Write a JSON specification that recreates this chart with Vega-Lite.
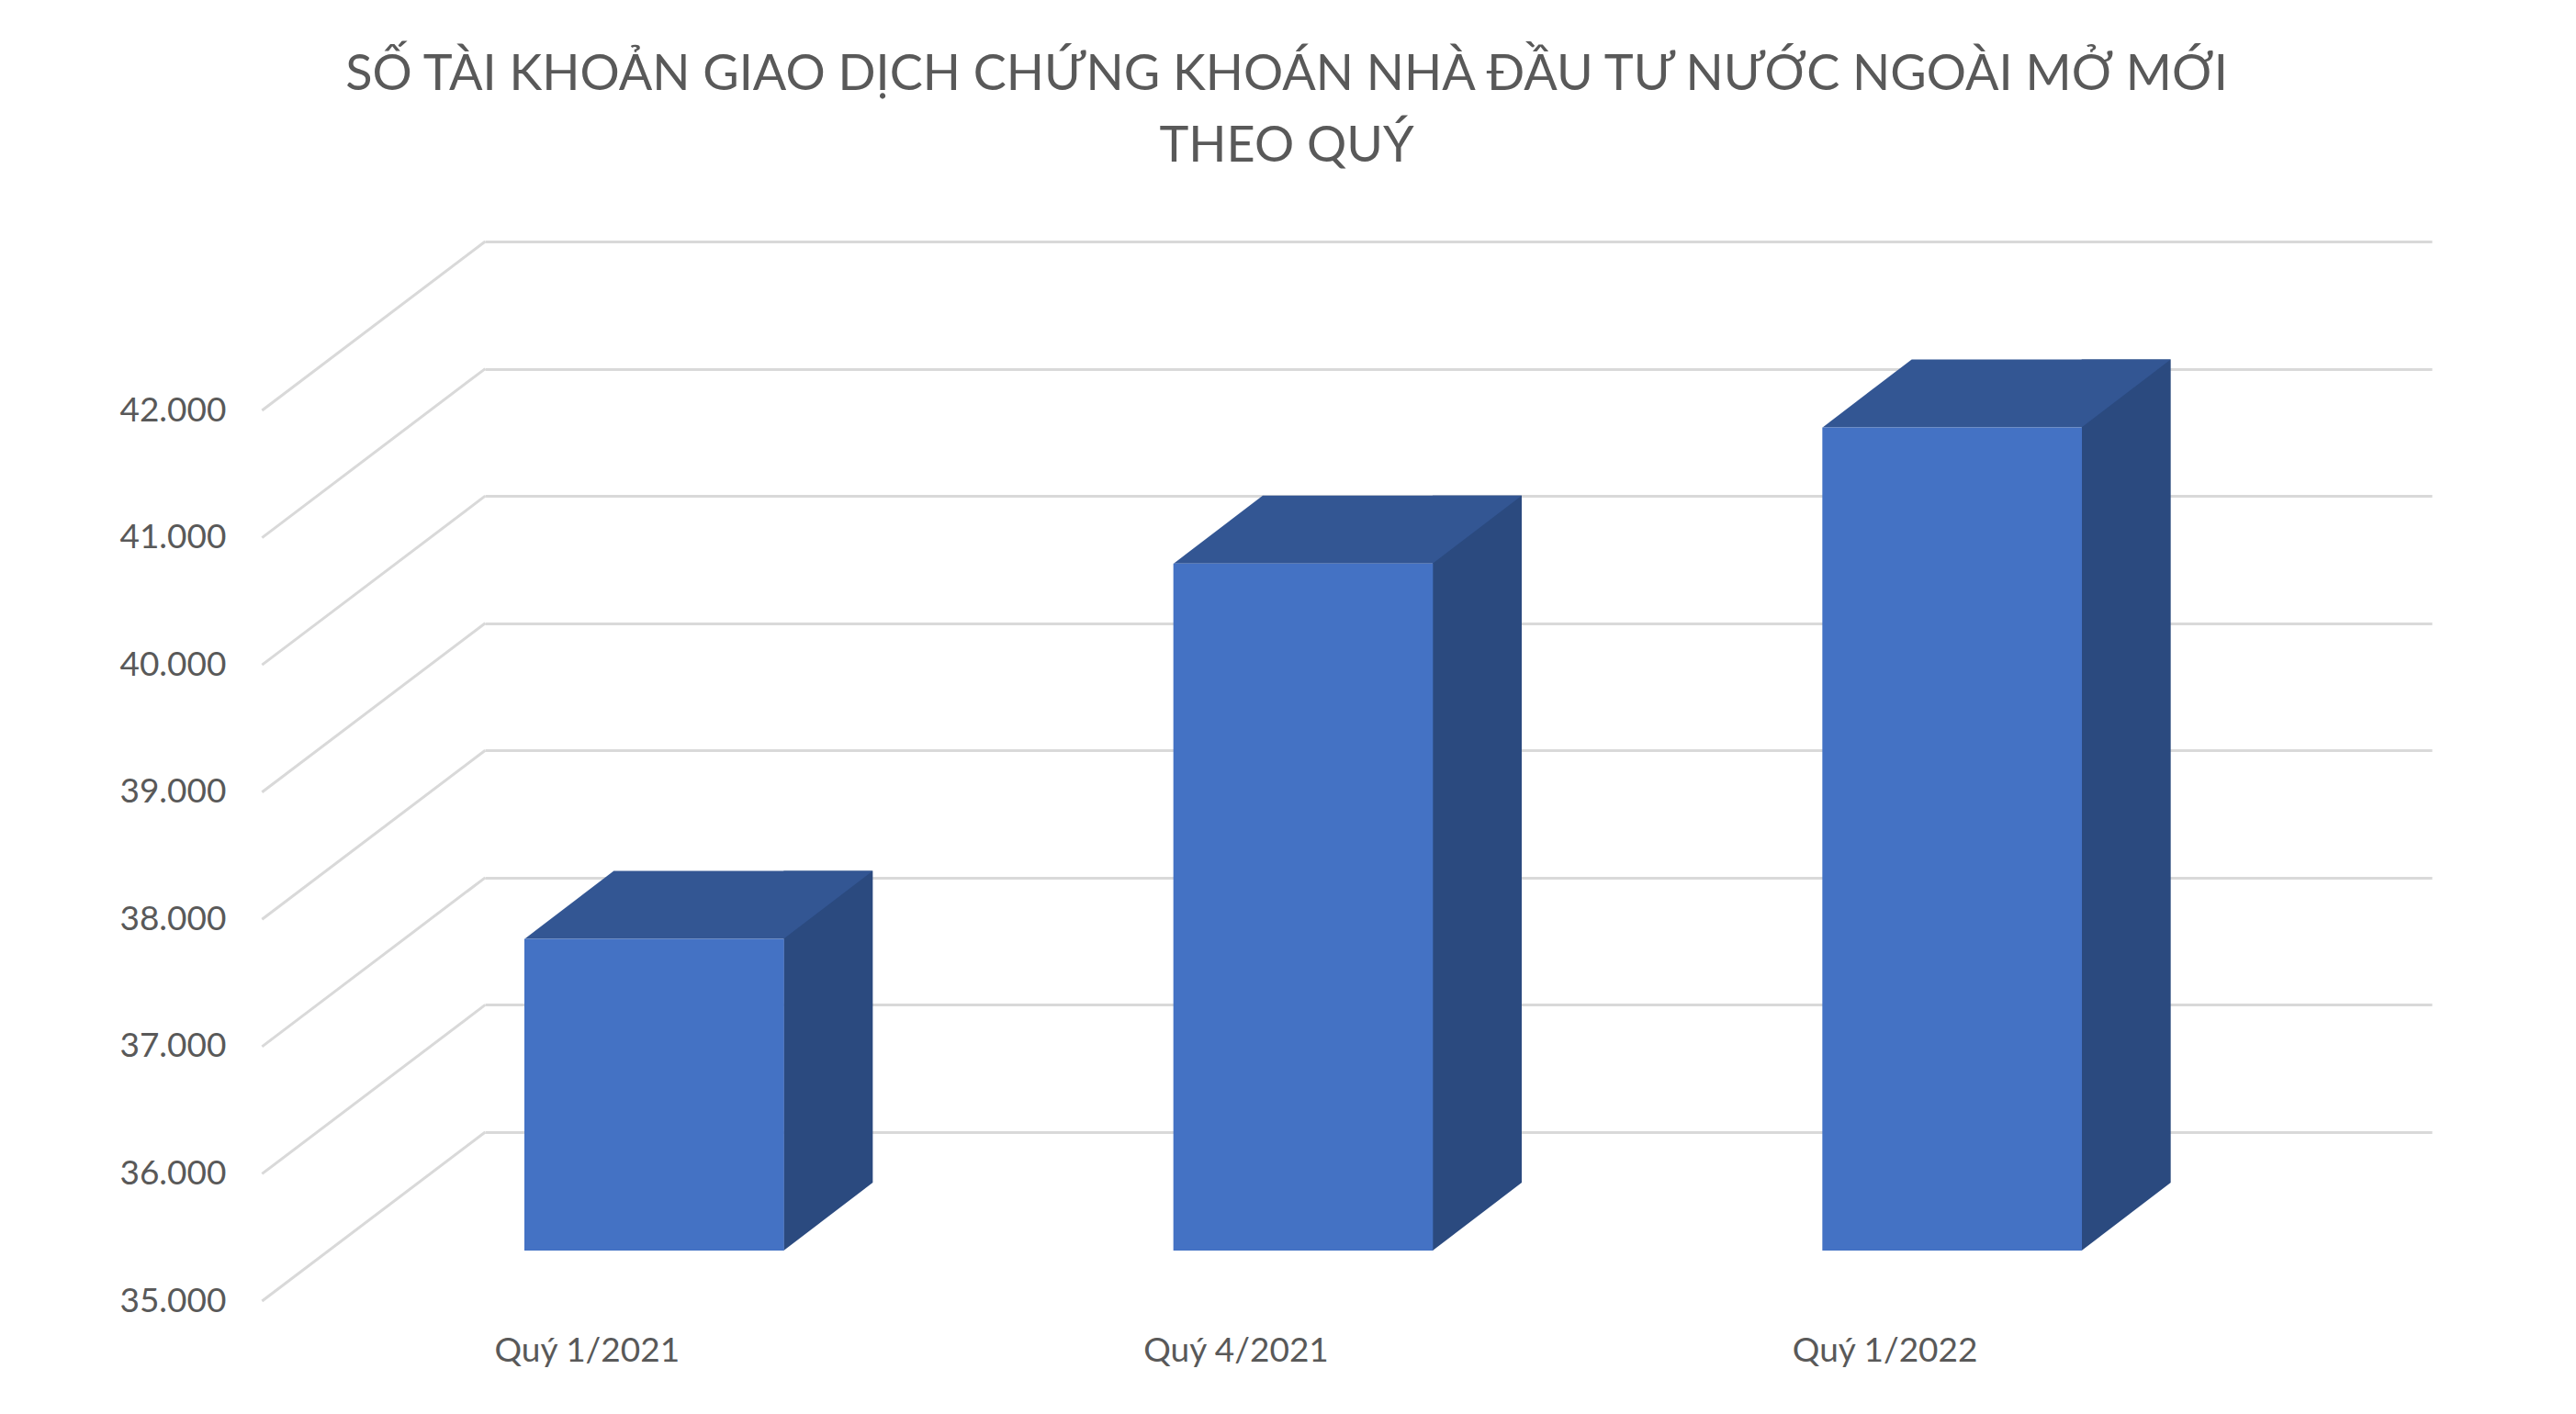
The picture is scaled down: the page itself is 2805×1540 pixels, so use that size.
{
  "$schema": "https://vega.github.io/schema/vega-lite/v6.json",
  "description": "So tai khoan giao dich chung khoan nha dau tu nuoc ngoai mo moi theo quy (3D column look).",
  "width": 2120,
  "height": 970,
  "autosize": "none",
  "padding": {"left": 528, "top": 263, "right": 157, "bottom": 307},
  "background": "white",
  "title": {
    "text": ["SỐ TÀI KHOẢN GIAO DỊCH CHỨNG KHOÁN NHÀ ĐẦU TƯ NƯỚC NGOÀI MỞ MỚI", "THEO QUÝ"],
    "anchor": "middle",
    "dx": -187,
    "font": "Lato",
    "fontSize": 54,
    "fontWeight": "normal",
    "color": "#595959",
    "lineHeight": 78,
    "offset": 70
  },
  "datasets": {
    "accounts": [
      {"quarter": "Quý 1/2021", "accounts": 37450},
      {"quarter": "Quý 4/2021", "accounts": 40400},
      {"quarter": "Quý 1/2022", "accounts": 41470}
    ],
    "levels": [
      {"level": 35000}, {"level": 36000}, {"level": 37000}, {"level": 38000},
      {"level": 39000}, {"level": 40000}, {"level": 41000}, {"level": 42000}
    ]
  },
  "config": {
    "view": {"stroke": null},
    "font": "Lato"
  },
  "layer": [
    {
      "data": {"name": "levels"},
      "mark": {
        "type": "point",
        "shape": "M-353,0L-596,184",
        "size": 4,
        "filled": false,
        "stroke": "#D9D9D9",
        "strokeWidth": 3,
        "opacity": 1
      },
      "encoding": {
        "x": {"datum": "Quý 1/2021", "type": "nominal"},
        "y": {"field": "level", "type": "quantitative"}
      }
    },
    {
      "data": {"name": "accounts"},
      "layer": [
        {
          "mark": {
            "type": "bar",
            "color": "#2B4A7F",
            "width": {"band": 0.1373},
            "xOffset": 20.5,
            "yOffset": 55,
            "y2Offset": 55
          },
          "encoding": {
            "y2": {"datum": 35000}
          }
        },
        {
          "mark": {
            "type": "point",
            "shape": "M-28,55L-28,129L69,55Z",
            "size": 4,
            "filled": true,
            "color": "#2B4A7F",
            "opacity": 1
          },
          "encoding": {
            "y": {"datum": 35000, "type": "quantitative"}
          }
        },
        {
          "mark": {
            "type": "point",
            "shape": "M-310,129L-28,129L69,55L-213,55Z",
            "size": 4,
            "filled": true,
            "color": "#335693",
            "opacity": 1
          }
        },
        {
          "mark": {
            "type": "bar",
            "color": "#4472C4",
            "width": {"band": 0.4},
            "xOffset": -169,
            "yOffset": 129,
            "y2Offset": 129
          },
          "encoding": {
            "y2": {"datum": 35000}
          }
        }
      ],
      "encoding": {
        "x": {"field": "quarter", "type": "nominal"},
        "y": {"field": "accounts", "type": "quantitative"}
      }
    }
  ],
  "resolve": {"scale": {"x": "shared", "y": "shared"}},
  "encoding": {
    "x": {
      "field": "quarter",
      "type": "nominal",
      "sort": null,
      "scale": {"paddingInner": 0, "paddingOuter": 0, "domain": ["Quý 1/2021", "Quý 4/2021", "Quý 1/2022"]},
      "axis": {
        "title": null,
        "domain": false,
        "ticks": false,
        "tickSize": 0,
        "labelAngle": 0,
        "labelLimit": 0,
        "labelFont": "Lato",
        "labelFontSize": 37,
        "labelColor": "#595959",
        "labelBaseline": "alphabetic",
        "labelPadding": 249,
        "labelOffset": -242
      }
    },
    "y": {
      "type": "quantitative",
      "scale": {"domain": [35000, 42000], "nice": false, "zero": false},
      "axis": {
        "title": null,
        "domain": false,
        "ticks": false,
        "tickSize": 0,
        "values": [35000, 36000, 37000, 38000, 39000, 40000, 41000, 42000],
        "format": ",.0f",
        "labelExpr": "replace(datum.label, ',', '.')",
        "labelFont": "Lato",
        "labelFontSize": 37,
        "labelColor": "#595959",
        "labelPadding": 282,
        "labelOffset": 184,
        "labelBaseline": "middle",
        "grid": true,
        "gridColor": "#D9D9D9",
        "gridWidth": 3
      }
    }
  }
}
